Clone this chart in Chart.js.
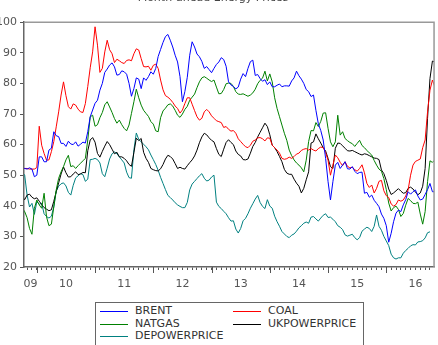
<!DOCTYPE html>
<html>
<head>
<meta charset="utf-8">
<script src="https://cdn.jsdelivr.net/npm/chart.js@4.4.1/dist/chart.umd.min.js"></script>
<style>
  html, body { margin: 0; padding: 0; background: #fff; overflow: hidden; }
  body { width: 438px; height: 345px; position: relative; }
  #wrap { position: absolute; left: -10px; top: -8px; width: 448px; height: 300px; }
  #legend { position: absolute; left: 95px; top: 302px; width: 269px; height: 60px; border: 1px solid #666;
            box-sizing: border-box; font: 11px "DejaVu Sans", sans-serif; color: #333; background: #fff; }
  .item { position: absolute; height: 12px; line-height: 12px; white-space: nowrap; }
  .item span { position: absolute; left: 0; top: 6px; width: 28px; height: 1px; }
  .item b { position: absolute; left: 35px; top: 0; font-weight: normal; }
</style>
</head>
<body>
<div id="wrap"><canvas id="grafica"></canvas></div>
<div id="legend"></div>
<script>
// valores cada medio mes, de oct 2009 a nov 2016
const firstDate = 2009.75, step = 1 / 24;

const brent = [52.2, 52.2, 52, 52.4, 52, 49.5,
  50, 56, 56, 54.4, 54.4, 58.2, 58.8, 64.2, 62.9, 62.6, 60.4, 60.4, 59.4, 61.1, 60.2, 60, 60.9, 59.5, 60.1, 60.8, 60.5, 64.2, 69.1, 71.3,
  73.5, 74.5, 77.8, 80, 83.6, 84.7, 86, 86.7, 85.4, 82.7, 82.9, 84.1, 83.8, 83, 80, 75.8, 78.3, 81.8, 81.4, 78.3, 81.8, 81, 82.2, 83.8,
  83, 84.9, 88.8, 91.1, 93.4, 95.3, 96, 94.1, 91.9, 89.2, 87, 82.2, 74, 77.3, 82, 89.2, 93.6, 91.9, 89.6, 88.7, 87.2, 84.9, 85.5, 84.5,
  83.5, 84.9, 86.2, 87, 88.4, 87.8, 85.6, 80.5, 79.5, 79, 78.2, 78.8, 81.4, 83.2, 82.2, 84.9, 87.1, 87.6, 82.6, 82.9, 81.6, 80.7, 81.2, 79.6,
  80.5, 78.9, 78.9, 79.4, 79.8, 78.9, 79.2, 79.2, 79.1, 80.8, 81.8, 84, 82.5, 81.4, 80, 78, 77.3, 75.7, 76.2, 71.2, 66.8, 64.6, 61.5, 55.5,
  47.9, 41.9, 47.9, 53.3, 54.2, 52.2, 53.3, 54.4, 52.1, 52, 52.8, 51.3, 50.5, 50.9, 51, 44.1, 44.4, 42.8, 43.5, 41.8, 40.8, 39.7, 37.3, 35.9,
  33.5, 28.1, 31, 34.8, 37.6, 38.6, 38.1, 40.3, 42, 44.6, 43.8, 44.6, 45.2, 43.2, 41.9, 42.2, 43.7, 45.3, 47.3, 44.6, 44.6];

const coal = [52.2, 52.2, 52.2, 52, 52, 52,
  52.5, 66, 59.8, 57.1, 54.9, 55, 57.7, 61, 65.8, 70.7, 76.2, 80.5, 76, 72.4, 71.6, 73.3, 72.9, 71.6, 70.7, 70.5, 73.4, 79, 85.1, 90.3,
  98.5, 92.5, 83.6, 84.9, 90.3, 94.1, 91, 89.7, 86.8, 87.9, 87.4, 86.8, 86.5, 87.5, 87.7, 87.4, 89.7, 91.3, 90.9, 88.1, 85.5, 85.4, 85.6, 84.3,
  85.9, 86.3, 84.9, 81.1, 77.9, 76, 75.5, 74.8, 73.8, 72.6, 71.8, 70.3, 71.3, 73.4, 75.3, 75.3, 73.2, 71.1, 69.1, 68, 68.6, 70.7, 71.5, 70.7,
  69.4, 68.6, 67.8, 67.5, 67.2, 65.6, 65.9, 65, 64.4, 64.6, 63.7, 61.9, 61, 60.1, 59.3, 59, 59.8, 61.1, 61.5, 62.2, 62.3, 61.9, 61.2, 62.2,
  62.1, 59.8, 59, 58.2, 57.2, 55.5, 55.2, 55.4, 55.9, 55.5, 56.1, 56.9, 57.2, 58.1, 58.5, 58.7, 58.2, 58.7, 58.2, 57.9, 58.7, 59.2, 59, 57.4,
  54.9, 50, 53.3, 56.6, 55.7, 54.2, 53.1, 54.4, 52.9, 52.4, 52.6, 51.8, 51.3, 52.2, 53.4, 50.8, 47.3, 46, 46.8, 44.2, 45.7, 48, 48.3, 44.9,
  43.3, 42.7, 40.6, 39.9, 40.4, 41.9, 41.5, 41.9, 43.2, 45.2, 50, 53.3, 54.5, 54.9, 55.3, 59, 61.5, 70.7, 77.8, 81.1, 78.9];

const natgas = [39.2, 38.1, 36.1, 32.6, 30.7, 39.2,
  41.9, 40.3, 39.2, 44.1, 36.4, 33.5, 34, 39.7, 45.2, 49, 51.1, 52.8, 55, 56.5, 52.8, 53.1, 52.2, 53.1, 53.9, 54.7, 55.5, 61.5, 69.1, 69.6,
  66, 66.5, 68.8, 70.5, 73, 74, 72.3, 70.5, 68.5, 67, 68, 66.5, 65.3, 64.5, 66.4, 70.2, 74, 78.1, 75.3, 72.9, 71.2, 70.2, 69.2, 67.5,
  66.7, 64.5, 64.2, 68.8, 71, 71.9, 73, 73.3, 72.6, 71.2, 69.6, 68.9, 70, 71.5, 72.5, 74.5, 75.5, 76.5, 78.6, 80.5, 81.8, 82.2, 81.7, 81.1,
  80.6, 81.1, 78.8, 76.6, 76.7, 78, 79.9, 80.1, 80, 79, 77.3, 76.5, 76.4, 76.6, 76.2, 75.8, 76.2, 76.9, 78.1, 79.9, 81, 81.7, 84, 80.8,
  83.1, 80.5, 75.3, 71.8, 69.1, 66.4, 63.7, 61.4, 58.2, 56.4, 55, 54, 53.3, 52.4, 51.1, 54.9, 61, 64.6, 64.5, 67.2, 65.9, 67.6, 70.3, 70.4,
  65.3, 60.9, 59.3, 60.9, 69.6, 63.1, 64.2, 62, 61.3, 60.7, 60.3, 59.4, 60.4, 61.4, 59.7, 59, 58.1, 57.3, 56.6, 54.8, 53.3, 52, 51.3, 48.9,
  45.3, 40.9, 38.3, 39.4, 39.9, 38.8, 36.5, 37.5, 40.2, 42.4, 41.7, 40.8, 40.7, 41.2, 37.3, 34, 38.1, 47.9, 54.7, 54.2, 55];

const ukPower = [43, 42, 43.5, 43.8, 42.8, 42.3,
  42.6, 41.5, 40.4, 39.4, 38.9, 38.4, 38.7, 41.5, 44.6, 47.5, 50.4, 52.7, 50.8, 49.4, 49.5, 50.4, 51.1, 50.2, 50.4, 50.9, 50.8, 58, 61.5, 62.3,
  60.8, 57.1, 55.9, 57.8, 59.5, 61, 60, 58.5, 57, 57.5, 56, 56, 55.5, 54.7, 53.5, 52.9, 57.4, 62.1, 61.3, 62, 57.5, 55.5, 54.2, 52.2,
  51.8, 51.5, 51.4, 52.1, 53.5, 55.3, 56.5, 56.1, 55.3, 53.8, 52.2, 52.6, 52.2, 52, 53.1, 54.1, 55, 56.3, 58.2, 60.6, 62.5, 63.7, 63.2, 62.2,
  61.4, 60.9, 58.7, 56.8, 56.1, 58.5, 60.7, 61.6, 60.7, 60, 57.9, 56.8, 56.3, 55.1, 55, 55.3, 57.2, 59.4, 60.7, 62.5, 64, 65.5, 67, 65.9,
  63.2, 59.8, 59, 57.7, 56.1, 54.4, 51.9, 50.7, 50.3, 50.3, 48.7, 47.4, 46.4, 44.2, 45.7, 48.5, 51.1, 60.5, 60.9, 63.5, 61.9, 60.5, 59, 57.9,
  55.5, 52.8, 52.2, 58.8, 60.5, 60.4, 59.6, 58.8, 58, 57.9, 58.1, 57.7, 57.3, 56.9, 56.6, 57, 56.8, 56.4, 56, 55.6, 55.5, 55.1, 51.7, 50.5,
  48.3, 45.5, 43.7, 44.2, 44.9, 45.6, 44.8, 44.1, 44.3, 45.7, 46.1, 45.5, 44.5, 43.6, 44.2, 46.4, 52.2, 68.6, 81.6, 87.3, 87];

const dePower = [51, 50, 43.5, 39.6, 40.8, 37.2,
  41.3, 40.5, 40.8, 37.4, 36.5, 36, 36.6, 39.6, 44.8, 46.4, 47.2, 47.5, 46.5, 44.4, 43.5, 46.7, 49.1, 49.8, 50.5, 50.2, 48, 48.7, 55.1, 55.2,
  55.5, 55.1, 54, 50.5, 49.5, 52.3, 55.3, 57, 57.6, 57, 56, 55, 54, 51, 49.2, 49, 58.3, 63.8, 61.7, 60.9, 60.1, 59.3, 58.3, 56.6,
  55.1, 53.5, 51.6, 49.3, 47.3, 45.3, 43.4, 42.7, 41.9, 41, 40.3, 39.8, 39.4, 39.4, 41.1, 45.2, 47.1, 48, 48.9, 49.8, 50.5, 49, 48.1, 48.4,
  49.4, 50, 41.2, 39.8, 39.1, 38.2, 37.4, 36.1, 35, 35.1, 32.4, 31.1, 32.6, 35.1, 35.9, 37.4, 39.2, 40.7, 42.2, 43.4, 41.1, 39.8, 39.1, 42,
  39.9, 39.2, 36.6, 34.8, 33.3, 31.6, 30.8, 30, 29.6, 30.4, 30.8, 31.7, 32.8, 33.5, 34.3, 34.7, 34.3, 36.3, 36.5, 35.7, 35, 36, 36.9, 37.4,
  36.2, 36.3, 35.6, 34.8, 33.5, 33, 32.2, 30.5, 30.1, 30.4, 30.7, 29.6, 28.9, 29.6, 31.7, 32.4, 33, 32.6, 31.6, 33.3, 37, 33.3, 32, 30,
  28.5, 27, 24.2, 23, 22.6, 23, 23, 24.5, 25.4, 26.1, 26.9, 27.3, 27.2, 28.2, 28.3, 28.6, 29.5, 31.2, 31.5, null, null];

const yearLabels = ["09", "10", "11", "12", "13", "14", "15", "16"];
const yTicks = [20, 30, 40, 50, 60, 70, 80, 90, 100];

const fechas = brent.map((_, i) => firstDate + i * step);
const serie = (vals) => vals.map((v, i) => ({ x: fechas[i], y: v }));

const xMin = 2009.78, xMax = 2016.82;

// ticks: uno por mes, etiqueta en mitad de cada año
function construirTicks(scale) {
    const ticks = [{ value: (xMin + 2010) / 2, label: yearLabels[0], hide: true }];
    for (let y = 2009; y <= 2016; y++) {
        for (let m = 0; m < 12; m++) {
            const v = y + m / 12;
            if (v < xMin || v > xMax) continue;
            const lbl = (m === 6 && y > 2009) ? yearLabels[y - 2009] : "";
            ticks.push({ value: v, label: lbl });
        }
    }
    scale.ticks = ticks;
}

const marcoPlugin = {
    id: "marco",
    afterDraw(chart) {
        const { ctx, chartArea: a, scales } = chart;
        ctx.save();
        ctx.strokeStyle = "#999";
        ctx.lineWidth = 1.5;
        ctx.beginPath();
        ctx.moveTo(a.left, a.top);
        ctx.lineTo(a.right, a.top);
        ctx.lineTo(a.right, a.bottom);
        ctx.stroke();
        // ticks largos en el cambio de año
        ctx.strokeStyle = "#555";
        ctx.lineWidth = 1;
        for (let y = 2010; y <= 2016; y++) {
            const px = Math.round(scales.x.getPixelForValue(y)) + 0.5;
            ctx.beginPath();
            ctx.moveTo(px, a.bottom);
            ctx.lineTo(px, a.bottom + 6);
            ctx.stroke();
        }
        ctx.restore();
    }
};

Chart.defaults.font.family = "'DejaVu Sans', sans-serif";
Chart.defaults.font.size = 11;
Chart.defaults.color = "#555";

const chart = new Chart(document.getElementById("grafica").getContext("2d"), {
    type: "line",
    data: {
        datasets: [
            { label: "BRENT", data: serie(brent), borderColor: "#0000ff" },
            { label: "COAL", data: serie(coal), borderColor: "#ff0000" },
            { label: "NATGAS", data: serie(natgas), borderColor: "#008000" },
            { label: "UKPOWERPRICE", data: serie(ukPower), borderColor: "#000000" },
            { label: "DEPOWERPRICE", data: serie(dePower), borderColor: "#008080" },
        ],
    },
    options: {
        responsive: true,
        maintainAspectRatio: false,
        animation: false,
        layout: { padding: { right: 2 } },
        elements: {
            line: { borderWidth: 1, tension: 0 },
            point: { radius: 0 },
        },
        plugins: {
            legend: { display: false },
            tooltip: { enabled: false },
            title: {
                display: true,
                text: "Month-ahead Energy Prices",
                color: "#444",
                font: { size: 11, weight: "normal" },
                padding: { top: 0, bottom: 17 },
            },
        },
        scales: {
            x: {
                type: "linear",
                min: xMin,
                max: xMax,
                afterBuildTicks: construirTicks,
                afterFit: (s) => { s.height = 25; },
                ticks: {
                    autoSkip: false,
                    maxRotation: 0,
                    padding: 8,
                    callback: (v, i, t) => t[i].label,
                },
                grid: {
                    drawOnChartArea: false,
                    tickLength: 3,
                    tickColor: (c) => (c.tick && c.tick.hide ? "rgba(0,0,0,0)" : "#555"),
                },
                border: { color: "#666", width: 1.5 },
            },
            y: {
                min: 20,
                max: 100,
                afterBuildTicks: (s) => { s.ticks = yTicks.map((v) => ({ value: v })); },
                afterFit: (s) => { s.width = 34; },
                ticks: { padding: 3 },
                grid: { drawOnChartArea: false, tickLength: 4, tickColor: "#555" },
                border: { color: "#666", width: 1.5 },
            },
        },
    },
    plugins: [marcoPlugin],
});

// leyenda en caja, dos columnas
const leyenda = document.getElementById("legend");
chart.data.datasets.forEach((ds, i) => {
    const el = document.createElement("div");
    el.className = "item";
    el.style.left = (4 + (i % 2) * 133) + "px";
    el.style.top = (2 + Math.floor(i / 2) * 12.5) + "px";
    const linea = document.createElement("span");
    linea.style.background = ds.borderColor;
    const txt = document.createElement("b");
    txt.textContent = ds.label;
    el.appendChild(linea);
    el.appendChild(txt);
    leyenda.appendChild(el);
});
</script>
</body>
</html>
